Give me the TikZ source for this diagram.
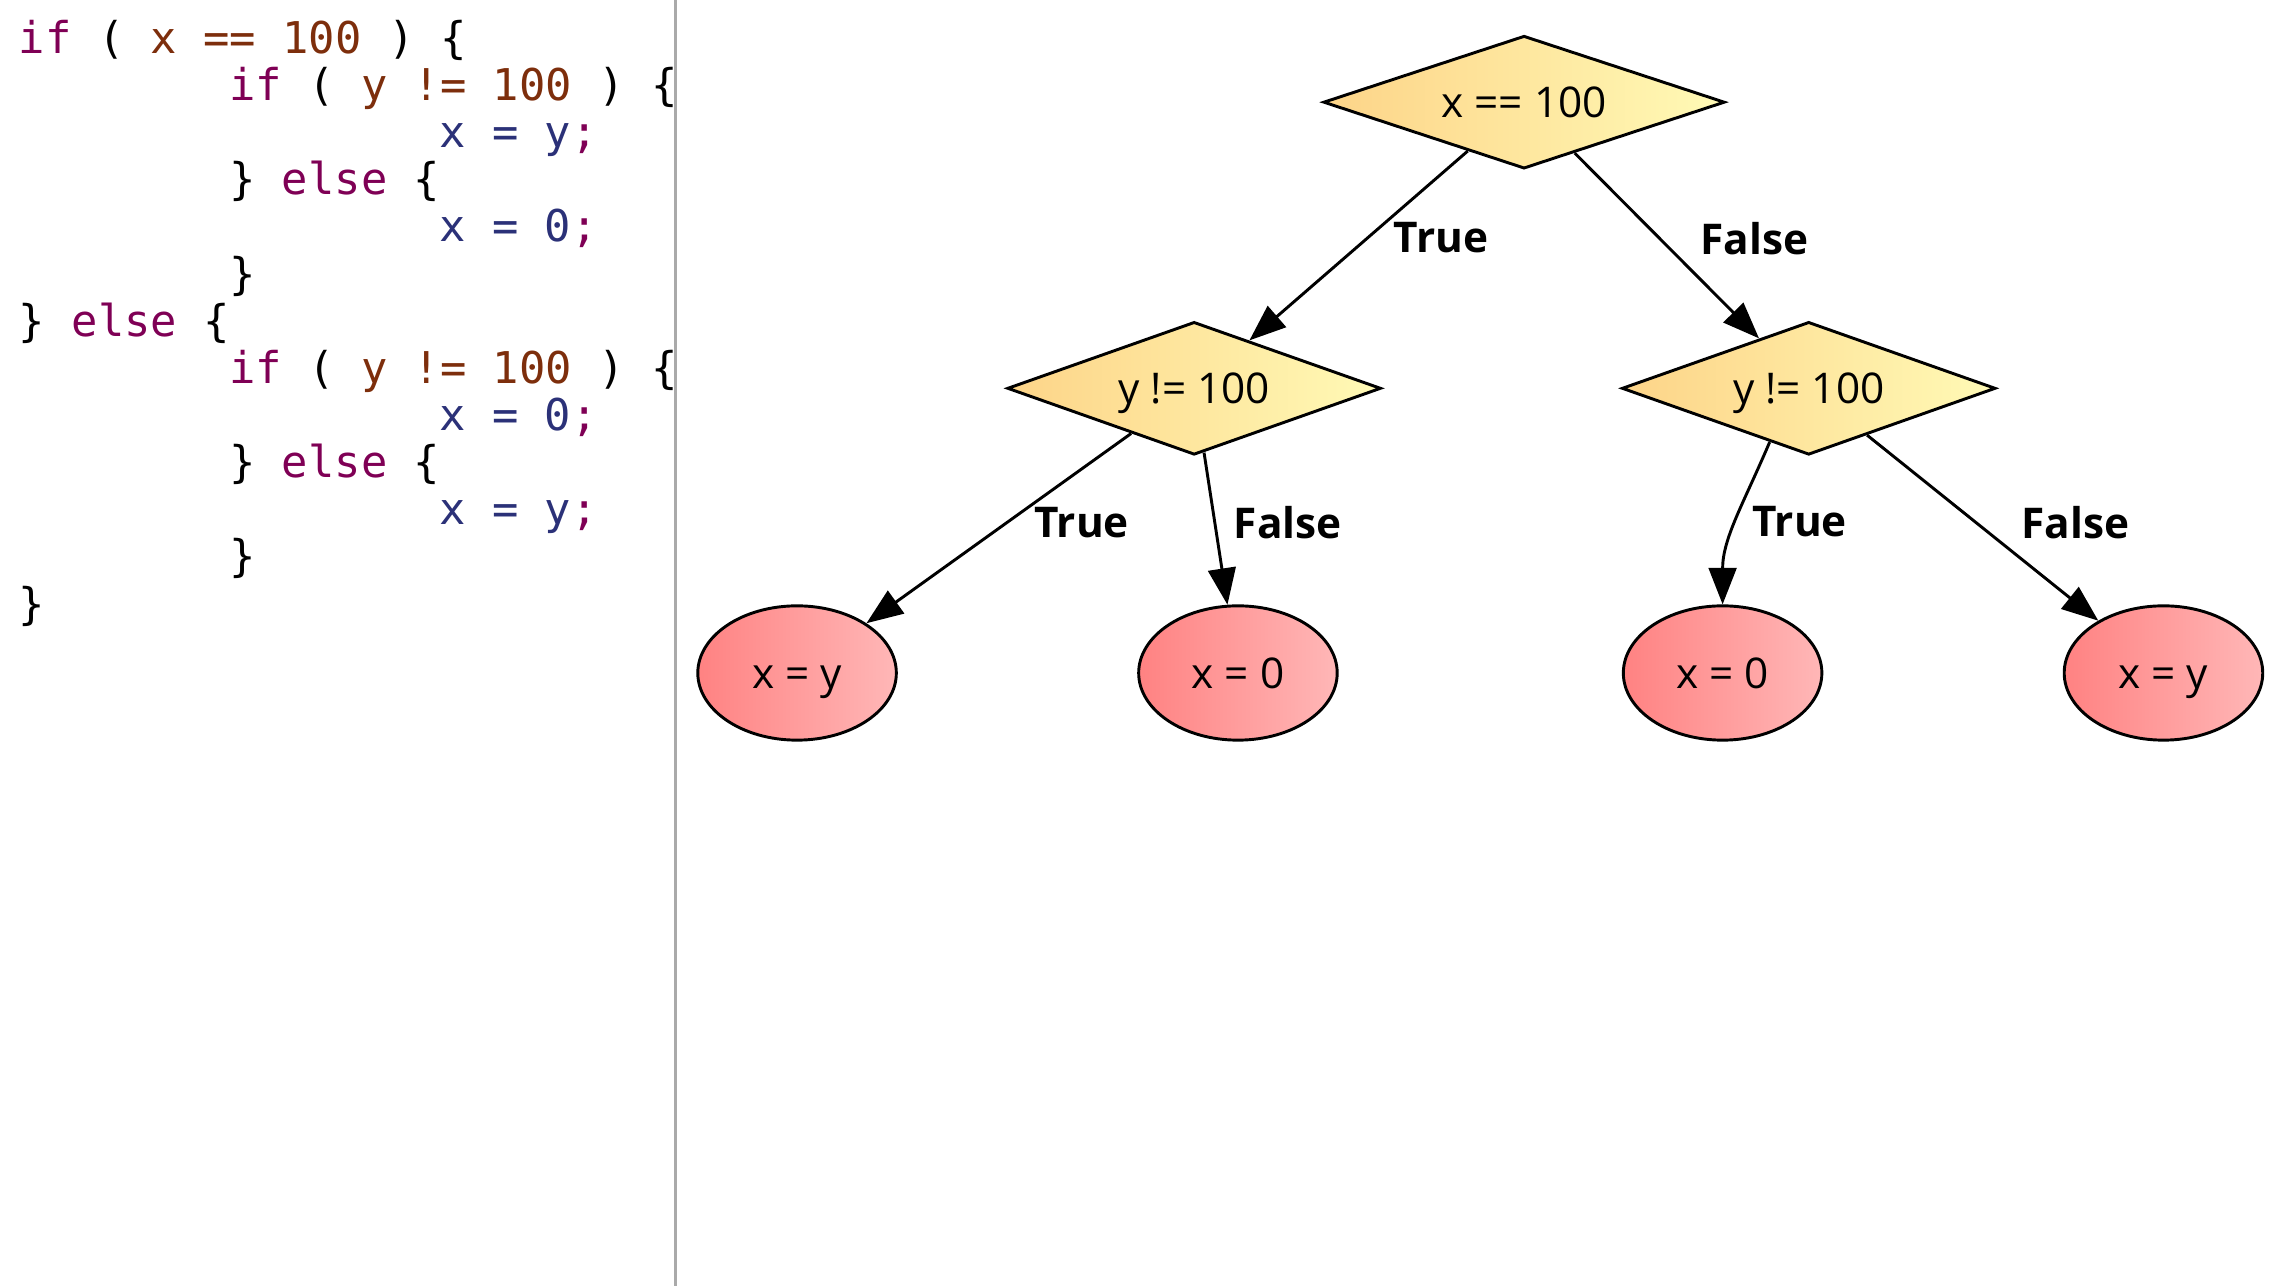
\documentclass[tikz,border=0pt]{standalone}
\usepackage{fontspec}
\setmainfont{Open Sans}
\setmonofont{DejaVu Sans Mono}
\usetikzlibrary{arrows.meta,shapes.geometric}

\definecolor{kwpurple}{HTML}{7F0055}
\definecolor{condbrown}{HTML}{7D2E0C}
\definecolor{asgblue}{HTML}{2B3178}
\definecolor{testleft}{HTML}{FDD488}
\definecolor{testright}{HTML}{FFFAB6}
\definecolor{actleft}{HTML}{FF8282}
\definecolor{actright}{HTML}{FFB7B7}
\definecolor{sepgray}{HTML}{AAAAAA}

\newcommand{\kw}[1]{\textcolor{kwpurple}{#1}}
\newcommand{\cnd}[1]{\textcolor{condbrown}{#1}}
\newcommand{\asg}[1]{\textcolor{asgblue}{#1}\textcolor{kwpurple}{;}}

\begin{document}
\begin{tikzpicture}[->,>={Triangle[length=25pt,width=19pt]},x=1pt,y=-1pt,
                    line width=2pt]
  \tikzstyle{test}=[diamond,draw,shape aspect=3,minimum width=256pt,minimum height=91pt,
                    inner sep=0pt,text height=21pt,text depth=0pt,
                    left color=testleft,right color=testright,
                    font=\fontsize{29}{35}\selectfont]
  \tikzstyle{act}=[ellipse,draw,minimum width=136pt,minimum height=92pt,inner sep=0pt,
                   text height=21pt,text depth=0pt,
                   left color=actleft,right color=actright,font=\fontsize{29}{35}\selectfont]
  \tikzstyle{lbl}=[inner sep=0pt,font=\fontsize{29}{35}\selectfont\bfseries]
  \tikzstyle{code}=[inner sep=0pt,anchor=base west,font=\fontsize{30}{32.3}\selectfont\ttfamily]

  \useasboundingbox (0,0) rectangle (1568,881);

  % source listing
  \node[code] (c1)  at (12,36.5)   {\kw{if} ( \cnd{x == 100} ) \{};
  \node[code] (c2)  at (156,68.8)  {\kw{if} ( \cnd{y != 100} ) \{};
  \node[code] (c3)  at (300,101.1) {\asg{x = y}};
  \node[code] (c4)  at (156,133.4) {\} \kw{else} \{};
  \node[code] (c5)  at (300,165.7) {\asg{x = 0}};
  \node[code] (c6)  at (156,198.0) {\}};
  \node[code] (c7)  at (12,230.3)  {\} \kw{else} \{};
  \node[code] (c8)  at (156,262.6) {\kw{if} ( \cnd{y != 100} ) \{};
  \node[code] (c9)  at (300,294.9) {\asg{x = 0}};
  \node[code] (c10) at (156,327.2) {\} \kw{else} \{};
  \node[code] (c11) at (300,359.5) {\asg{x = y}};
  \node[code] (c12) at (156,391.8) {\}};
  \node[code] (c13) at (12,424.1)  {\}};

  \draw[-,sepgray] (463,0) -- (463,881);

  % decision tree
  \node[test,minimum width=275pt] (A) at (1044,70)  {x == 100};   % outer test
  \node[test] (B) at (818,266)  {y != 100};   % inner, true side
  \node[test] (C) at (1239,266) {y != 100};   % inner, false side
  \node[act]  (D) at (546,461)  {x = y};
  \node[act]  (E) at (848,461)  {x = 0};
  \node[act]  (F) at (1180,461) {x = 0};
  \node[act]  (G) at (1482,461) {x = y};
  \path (A) edge                node[lbl,pos=0.458,right=17pt] {True}  (B)
        (A) edge                node[lbl,pos=0.461,right=27pt] {False} (C)
        (B) edge                node[lbl,pos=0.47,right=18pt]  {True}  (D)
        (B) edge                node[lbl,pos=0.461,right=12pt] {False} (E)
        (C.-126) edge[out=-113,in=90] node[lbl,pos=0.5,right=10pt] {True} (F)
        (C) edge                node[lbl,pos=0.472,right=30pt] {False} (G)
       ;
\end{tikzpicture}
\end{document}
